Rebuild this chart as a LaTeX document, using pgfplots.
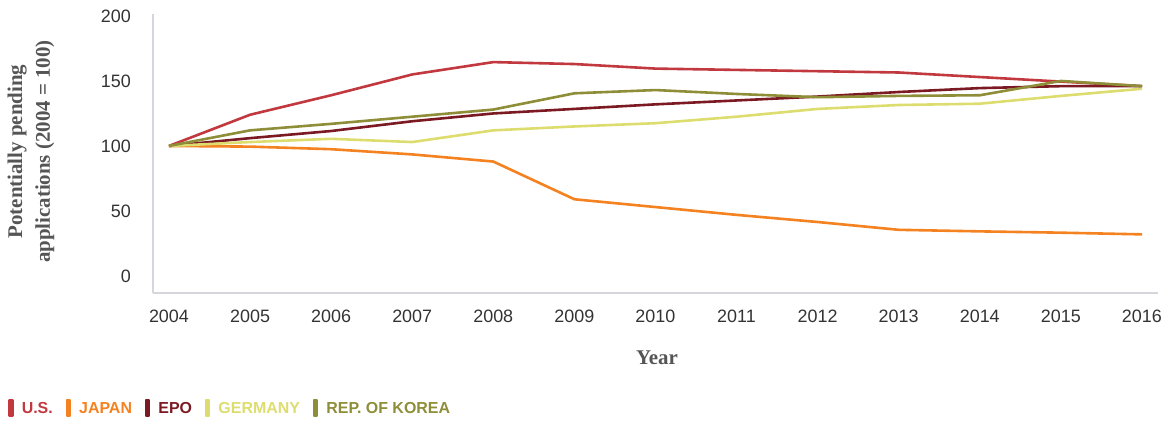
\documentclass[border=0pt]{standalone}
\usepackage{pgfplots}
\pgfplotsset{compat=1.18}
\usepackage{fontspec}
\setmainfont{Liberation Serif}
\setsansfont{Liberation Sans}

\definecolor{usred}{HTML}{C1393F}
\definecolor{japan}{HTML}{F58220}
\definecolor{epo}{HTML}{7B1A22}
\definecolor{germany}{HTML}{DDDD6F}
\definecolor{korea}{HTML}{8E8E38}
\definecolor{axisgray}{HTML}{D5D5DC}
\definecolor{ticktext}{HTML}{333333}
\definecolor{labeltext}{HTML}{555555}

\begin{document}
\begin{tikzpicture}
\useasboundingbox (0bp,0bp) rectangle (1175bp,421bp);
\begin{axis}[%
scale only axis,
width=1005bp, height=279bp,
at={(153bp,128bp)}, anchor=south west,
xmin=2003.803, xmax=2016.197,
ymin=-13.1, ymax=201.5,
axis x line=bottom, axis y line=left,
axis line style={-, axisgray, line width=2bp},
major tick length=0pt,
xtick={2004,...,2016},
ytick={0,50,100,150,200},
/pgf/number format/1000 sep={},
/pgf/number format/assume math mode=true,
tick label style={font=\sffamily\fontsize{18}{20}\selectfont, text=ticktext, inner sep=0pt},
xticklabel style={anchor=north, yshift=-17bp},
yticklabel style={anchor=east, xshift=-22bp},
xlabel={Year},
ylabel={Potentially pending\\applications (2004 = 100)},
label style={font=\bfseries\fontsize{21}{28}\selectfont, text=labeltext},
xlabel style={at={(axis description cs:0.5015,-0.233)}, anchor=center},
ylabel style={at={(axis description cs:-0.1214,0.507)}, anchor=center, align=center},
legend columns=-1,
legend cell align=left,
legend style={draw=none, fill=none, inner sep=0pt,
  at={(axis description cs:-0.1443,-0.412)}, anchor=west,
  font=\sffamily\bfseries\fontsize{16}{18}\selectfont,
  nodes={inner sep=0pt},
  /tikz/every odd column/.append style={column sep=8bp},
  /tikz/every even column/.append style={column sep=12.8bp}},
legend image code/.code={\fill[#1] (0bp,-7bp) rectangle (3bp,9bp);},
every axis plot/.append style={line width=2.6bp, line join=round, mark=none},
]
\addplot[color=usred] coordinates {
(2004,100) (2005,124) (2006,139) (2007,155) (2008,164.5) (2009,163)
(2010,159.5) (2011,158.5) (2012,157.5) (2013,156.5) (2014,153) (2015,149.5) (2016,146)
};
\addlegendentry{\textcolor{usred}{U.S.}}
\addplot[color=japan] coordinates {
(2004,100) (2005,99.5) (2006,97.5) (2007,93.5) (2008,88) (2009,59)
(2010,53) (2011,47) (2012,41.5) (2013,35.5) (2014,34.3) (2015,33.3) (2016,32)
};
\addlegendentry{\textcolor{japan}{JAPAN}}
\addplot[color=epo] coordinates {
(2004,100) (2005,106) (2006,111.5) (2007,119) (2008,125) (2009,128.5)
(2010,132) (2011,135) (2012,138) (2013,141.5) (2014,144.5) (2015,146) (2016,146)
};
\addlegendentry{\textcolor{epo}{EPO}}
\addplot[color=germany] coordinates {
(2004,100) (2005,103) (2006,105.5) (2007,103) (2008,112) (2009,115)
(2010,117.5) (2011,122.5) (2012,128.5) (2013,131.5) (2014,132.5) (2015,138.5) (2016,144)
};
\addlegendentry{\textcolor{germany}{GERMANY}}
\addplot[color=korea] coordinates {
(2004,100) (2005,112) (2006,117) (2007,122.5) (2008,128) (2009,140.5)
(2010,143) (2011,140) (2012,137.5) (2013,138.5) (2014,139) (2015,150) (2016,146)
};
\addlegendentry{\textcolor{korea}{REP. OF KOREA}}
\end{axis}
\end{tikzpicture}
\end{document}
